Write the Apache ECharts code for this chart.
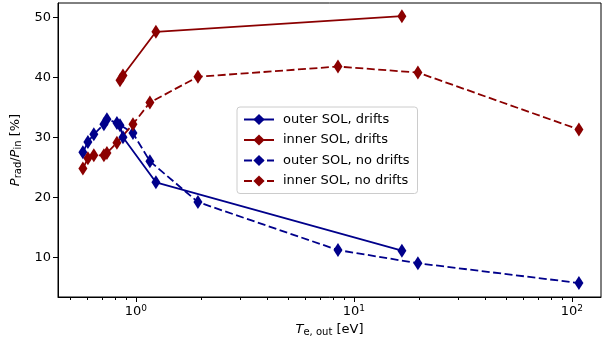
<!DOCTYPE html>
<html>
<head>
<meta charset="utf-8">
<script src="https://cdn.jsdelivr.net/npm/echarts@6/dist/echarts.min.js"></script>
<style>
  html, body { margin: 0; padding: 0; background: #fff; }
  #chart { width: 603px; height: 349px; }
</style>
</head>
<body>
<div id="chart"></div>
<script>
// T_e,out [eV] for the runs with and without drifts
const teDrifts = [0.845, 0.872, 1.235, 16.6];
const outerDrifts = [32.0, 30.0, 22.5, 11.1];
const innerDrifts = [39.5, 40.3, 47.6, 50.2];

const teNoDrifts = [0.571, 0.602, 0.641, 0.713, 0.736, 0.818, 0.969, 1.159, 1.925, 8.45, 19.66, 107.7];
const outerNoDrifts = [27.5, 29.2, 30.5, 32.2, 33.0, 32.4, 30.7, 26.0, 19.2, 11.2, 9.0, 5.7];
const innerNoDrifts = [24.8, 26.5, 27.0, 27.0, 27.4, 29.1, 32.2, 35.8, 40.1, 41.8, 40.8, 31.3];

const xMajor = [1, 10, 100];
const xMinor = [0.5, 0.6, 0.7, 0.8, 0.9, 2, 3, 4, 5, 6, 7, 8, 9, 20, 30, 40, 50, 60, 70, 80, 90];
const yTicks = [10, 20, 30, 40, 50];

const BLUE = '#00008b';
const RED = '#8b0000';
const FONT = 'DejaVu Sans';
const X_MIN = 0.439;
const X_MAX = 136;

function pairs(xs, ys) {
  return xs.map((x, i) => [x, ys[i]]);
}

function lineSeries(name, xs, ys, color, dashed) {
  return {
    name: name,
    type: 'line',
    data: pairs(xs, ys),
    symbol: 'diamond',
    symbolSize: [9, 14],
    showAllSymbol: true,
    lineStyle: { color: color, width: 1.8, type: dashed ? [8, 3.5] : 'solid' },
    itemStyle: { color: color },
    emphasis: { disabled: true },
    animation: false
  };
}

const nameRich = {
  i: { fontStyle: 'italic', fontSize: 13, fontFamily: FONT },
  sub: { fontSize: 10, fontFamily: FONT, verticalAlign: 'bottom', padding: [6, 0, 0, 0] }
};

const chart = echarts.init(document.getElementById('chart'), null, { renderer: 'canvas' });

chart.setOption({
  animation: false,
  textStyle: { fontFamily: FONT },
  grid: {
    left: 58, right: 2, top: 3, bottom: 52,
    show: true, borderColor: '#000', borderWidth: 1, backgroundColor: 'transparent'
  },
  legend: {
    left: 237, top: 107,
    orient: 'vertical',
    itemWidth: 30, itemHeight: 14, itemGap: 7.5,
    padding: [6, 8, 6, 6],
    backgroundColor: 'rgba(255,255,255,0.85)',
    borderColor: '#cccccc', borderWidth: 1, borderRadius: 3,
    textStyle: { fontFamily: FONT, fontSize: 13, color: '#000', padding: [0, 0, 0, 4] },
    data: ['outer SOL, drifts', 'inner SOL, drifts', 'outer SOL, no drifts', 'inner SOL, no drifts']
  },
  xAxis: [
    {
      type: 'log', logBase: 10, min: X_MIN, max: X_MAX,
      name: '{i|T}{sub|e, out} [eV]',
      nameLocation: 'middle', nameGap: 24,
      nameTextStyle: { fontFamily: FONT, fontSize: 13, color: '#000', rich: nameRich },
      axisLine: { show: true, lineStyle: { color: '#000', width: 1 } },
      axisTick: { show: true, customValues: xMajor, length: 5, lineStyle: { color: '#000' } },
      axisLabel: {
        customValues: xMajor, margin: 7, color: '#000', fontSize: 13,
        formatter: v => '10{sup|' + Math.round(Math.log10(v)) + '}',
        rich: { sup: { fontSize: 9, verticalAlign: 'top', padding: [0, 0, 6, 0] } }
      },
      splitLine: { show: false }
    },
    {
      type: 'log', logBase: 10, min: X_MIN, max: X_MAX,
      position: 'bottom',
      axisLine: { show: false },
      axisTick: { show: true, customValues: xMinor, length: 3, lineStyle: { color: '#000' } },
      axisLabel: { show: false },
      splitLine: { show: false }
    }
  ],
  yAxis: {
    type: 'value', min: 3.37, max: 52.4,
    name: '{i|P}{sub|rad}/{i|P}{sub|in} [%]',
    nameLocation: 'middle', nameGap: 31, nameRotate: 90,
    nameTextStyle: { fontFamily: FONT, fontSize: 13, color: '#000', rich: nameRich },
    axisLine: { show: true, lineStyle: { color: '#000', width: 1 } },
    axisTick: { show: true, customValues: yTicks, length: 5, lineStyle: { color: '#000' } },
    axisLabel: { customValues: yTicks, margin: 7, color: '#000', fontSize: 13 },
    splitLine: { show: false }
  },
  series: [
    lineSeries('outer SOL, drifts', teDrifts, outerDrifts, BLUE, false),
    lineSeries('inner SOL, drifts', teDrifts, innerDrifts, RED, false),
    lineSeries('outer SOL, no drifts', teNoDrifts, outerNoDrifts, BLUE, true),
    lineSeries('inner SOL, no drifts', teNoDrifts, innerNoDrifts, RED, true)
  ]
});
</script>
</body>
</html>
